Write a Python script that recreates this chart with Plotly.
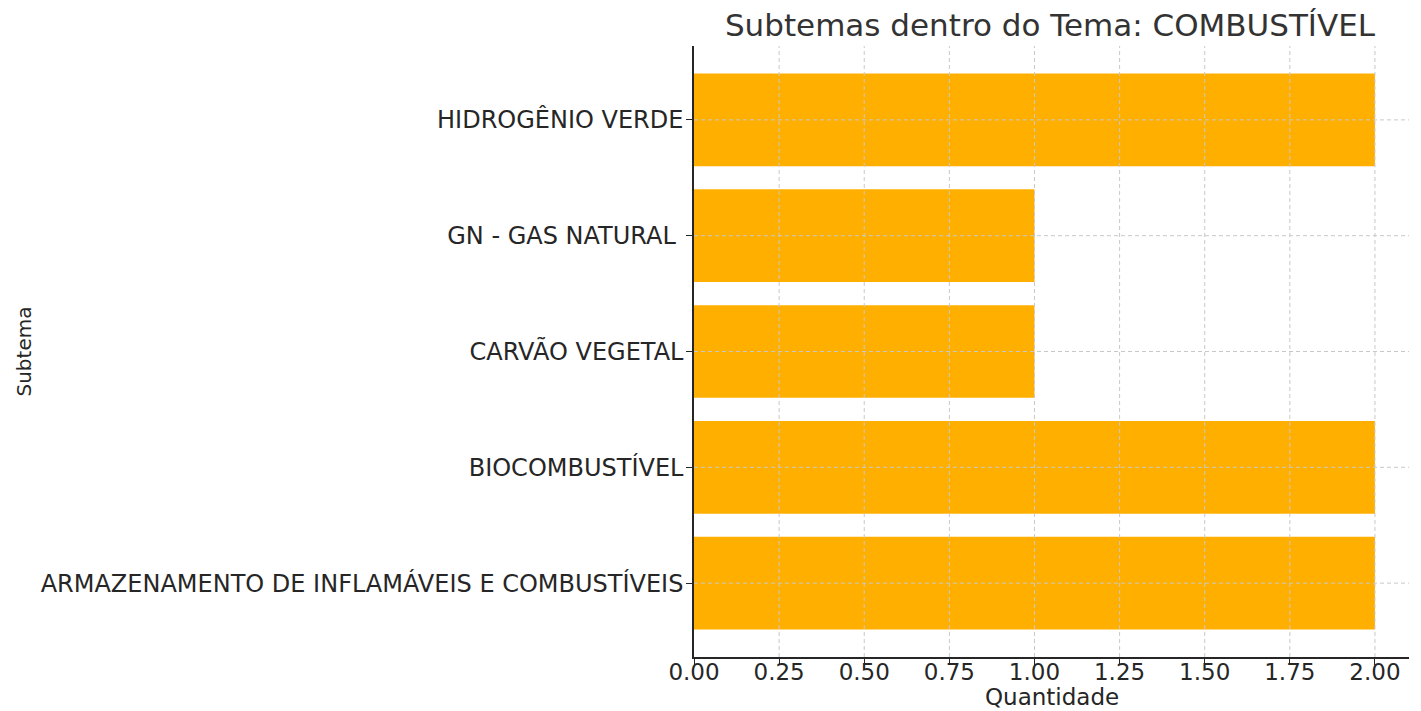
import plotly.graph_objects as go

subtemas = [
    "ARMAZENAMENTO DE INFLAMÁVEIS E COMBUSTÍVEIS",
    "BIOCOMBUSTÍVEL",
    "CARVÃO VEGETAL",
    "GN - GAS NATURAL\u00a0",
    "HIDROGÊNIO VERDE",
]
quantidade = [2, 2, 1, 1, 2]
x_ticks = [0.0, 0.25, 0.5, 0.75, 1.0, 1.25, 1.5, 1.75, 2.0]
x_tick_labels = [f"{v:.2f}" for v in x_ticks]

FONT = "DejaVu Sans"
TXT = "#262626"
GRID = "#c8c8c8"

fig = go.Figure(
    go.Bar(
        x=quantidade,
        y=list(range(len(subtemas))),
        orientation="h",
        width=0.8,
        marker=dict(color="#FFAF00", line=dict(width=0)),
    )
)

shapes = []
for v in x_ticks[1:]:
    shapes.append(dict(type="line", xref="x", yref="paper", x0=v, x1=v, y0=0, y1=1,
                       line=dict(color=GRID, width=1, dash="4px,3px"), layer="above"))
for i in range(len(subtemas)):
    shapes.append(dict(type="line", xref="paper", yref="y", x0=0, x1=1, y0=i, y1=i,
                       line=dict(color=GRID, width=1, dash="4px,3px"), layer="above"))

fig.update_layout(
    width=1421,
    height=711,
    margin=dict(l=686, r=20, t=38, b=62),
    paper_bgcolor="white",
    plot_bgcolor="white",
    font=dict(family=FONT, color=TXT, size=18),
    showlegend=False,
    shapes=shapes,
    title=dict(
        text="Subtemas dentro do Tema: COMBUSTÍVEL",
        x=(1050 - 8) / 1421,
        xanchor="center",
        y=1 - 17 / 711,
        yanchor="middle",
        font=dict(size=31, family=FONT, color="#333333"),
    ),
    annotations=[
        dict(
            text="Subtema",
            xref="paper",
            yref="paper",
            x=-(693 - 22) / 715,
            y=0.5,
            xanchor="center",
            yanchor="middle",
            textangle=-90,
            showarrow=False,
            font=dict(size=20, family=FONT, color=TXT),
        ),
        dict(
            text="Quantidade",
            xref="paper",
            yref="paper",
            x=0.5,
            y=-40 / 611,
            xanchor="center",
            yanchor="middle",
            showarrow=False,
            font=dict(size=23, family=FONT, color=TXT),
        ),
    ],
    xaxis=dict(
        range=[0, 2.1],
        tickvals=x_ticks,
        ticktext=x_tick_labels,
        showgrid=False,
        zeroline=False,
        showline=True,
        linecolor="#262626",
        linewidth=1.5,
        ticks="outside",
        ticklen=6,
        tickwidth=1.2,
        tickcolor="#262626",
        tickfont=dict(size=23),
        ticklabelstandoff=-12,
    ),
    yaxis=dict(
        range=[-0.638, 4.638],
        tickvals=list(range(len(subtemas))),
        ticktext=subtemas,
        showgrid=False,
        zeroline=False,
        showline=True,
        linecolor="#262626",
        linewidth=1.5,
        ticks="outside",
        ticklen=6,
        tickwidth=1.2,
        tickcolor="#262626",
        tickfont=dict(size=24),
        ticklabelstandoff=-2,
    ),
)

fig.write_html("out.html")
